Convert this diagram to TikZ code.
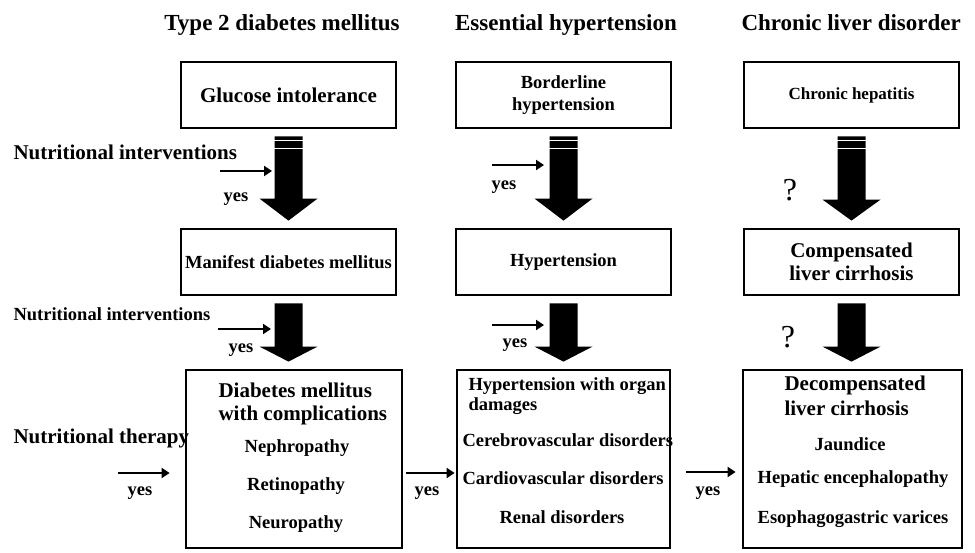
\documentclass[tikz,border=0pt]{standalone}
\usepackage{fontspec}
\setmainfont{Liberation Serif}
\usetikzlibrary{arrows.meta,calc}
% thick block arrow: from node, to node, head length
\newcommand\bigarrow[3]{%
  \fill let \p1=($(#1.south)+(0,7)$), \p2=($(#2.north)-(0,7)$) in
    (\x1-14pt,\y1) -- (\x1+14pt,\y1) -- (\x1+14pt,\y2+#3) -- (\x1+29pt,\y2+#3)
    -- (\x1,\y2) -- (\x1-29pt,\y2+#3) -- (\x1-14pt,\y2+#3) -- cycle;}
\newcommand\stripes[1]{%
  \draw[white, line width=1.3pt] ($(#1.south)+(-15,11)$) -- ++(30,0)
    ($(#1.south)+(-15,19)$) -- ++(30,0);}
\begin{document}
\begin{tikzpicture}[x=1pt, y=-1pt,
  box/.style={draw, line width=2.8pt, inner sep=0pt, align=center},
  big/.style={font=\fontsize{21}{23}\selectfont\bfseries},
  mid/.style={font=\fontsize{18.5}{22}\selectfont\bfseries},
  head/.style={font=\fontsize{23}{26}\selectfont\bfseries},
  ask/.style={font=\fontsize{32}{32}\selectfont},
  note/.style={line width=2.6pt, -{Triangle[length=8pt,width=10pt]}}]
	\useasboundingbox (0,0) rectangle (975,552);
	\def\bw{215pt}\def\bh{66pt}
	% titles
	\node[head, anchor=base] (t1) at (282,30) {Type 2 diabetes mellitus};
	\node[head, anchor=base] (t2) at (566,30) {Essential hypertension};
	\node[head, anchor=base west] (t3) at (738,30) {Chronic liver disorder};
	
	% first two stages
	\node[box, big, minimum width=\bw, minimum height=\bh] (g1) at (288.5,95) {Glucose intolerance};
	\node[box, mid, minimum width=\bw, minimum height=\bh] (h1) at (563.5,95) {Borderline\\hypertension};
	\node[box, mid, font=\fontsize{17}{20}\selectfont\bfseries, minimum width=\bw, minimum height=\bh] (c1) at (851.5,95) {Chronic hepatitis};
	\node[box, mid, minimum width=\bw, minimum height=\bh] (g2) at (288.5,262) {Manifest diabetes mellitus};
	\node[box, mid, minimum width=\bw, minimum height=\bh] (h2) at (563.5,262) {Hypertension};
	\node[box, big, minimum width=\bw, minimum height=\bh] (c2) at (851.5,262) {Compensated\\liver cirrhosis};
	
	% last stage
	\node[box, minimum width=216pt, minimum height=178pt] (g3) at (294,459) {};
	\node[box, minimum width=213pt, minimum height=178pt] (h3) at (563.5,459) {};
	\node[box, minimum width=219pt, minimum height=178pt] (c3) at (852.5,459) {};
	\node[big, anchor=base west] (g3a) at (215,397) {Diabetes mellitus};
	\node[big, anchor=base west] (g3b) at (215,420) {with complications};
	\node[mid, anchor=base] (g3c) at (297,452) {Nephropathy};
	\node[mid, anchor=base] (g3d) at (296,490) {Retinopathy};
	\node[mid, anchor=base] (g3e) at (296,528) {Neuropathy};
	\node[mid, anchor=base west] (h3a) at (465,390) {Hypertension with organ};
	\node[mid, anchor=base west] (h3b) at (465,410) {damages};
	\node[mid, anchor=base west] (h3c) at (459,446) {Cerebrovascular disorders};
	\node[mid, anchor=base] (h3d) at (563,484) {Cardiovascular disorders};
	\node[mid, anchor=base] (h3e) at (562,523) {Renal disorders};
	\node[big, anchor=base west] (c3a) at (781,390) {Decompensated};
	\node[big, anchor=base west] (c3b) at (781,415) {liver cirrhosis};
	\node[mid, anchor=base] (c3c) at (850,450) {Jaundice};
	\node[mid, anchor=base] (c3d) at (853,483) {Hepatic encephalopathy};
	\node[mid, anchor=base] (c3e) at (853,523) {Esophagogastric varices};
	
	% block arrows
	\bigarrow{g1}{g2}{22pt} \stripes{g1}
	\bigarrow{h1}{h2}{22pt} \stripes{h1}
	\bigarrow{c1}{c2}{21pt} \stripes{c1}
	\bigarrow{g2}{g3}{15pt}
	\bigarrow{h2}{h3}{15pt}
	\bigarrow{c2}{c3}{15pt}
	
	% interventions
	\node[big, anchor=base west] (n1) at (10,159) {Nutritional interventions};
	\node[mid, anchor=base west] (n2) at (10,320) {Nutritional interventions};
	\node[big, anchor=base west] (n3) at (10,443) {Nutritional therapy};
	\coordinate (a1) at (220,171); \coordinate (b1) at (272,171);
	\coordinate (a2) at (492,165); \coordinate (b2) at (544,165);
	\coordinate (a3) at (218,329); \coordinate (b3) at (271,329);
	\coordinate (a4) at (492,325); \coordinate (b4) at (544,325);
	\coordinate (a5) at (118,473);
	\draw[note] (a1) -- (b1);
	\draw[note] (a2) -- (b2);
	\draw[note] (a3) -- (b3);
	\draw[note] (a4) -- (b4);
	\draw[note] (a5) -- ($(g3.west)+(-15,14)$);
	\draw[note] ($(g3.east)+(3,14)$) -- ($(h3.west)+(-1,14)$);
	\draw[note] ($(h3.east)+(15,13)$) -- ($(c3.west)+(-6,13)$);
	\node[mid, anchor=base] (y1) at (236,201) {yes};
	\node[mid, anchor=base] (y2) at (504,189) {yes};
	\node[mid, anchor=base] (y3) at (241,352) {yes};
	\node[mid, anchor=base] (y4) at (515,347) {yes};
	\node[mid, anchor=base] (y5) at (140,495) {yes};
	\node[mid, anchor=base] (y6) at (427,495) {yes};
	\node[mid, anchor=base] (y7) at (708,495) {yes};
	\node[ask, anchor=base] (q1) at (790,200) {?};
	\node[ask, anchor=base] (q2) at (788,347) {?};
\end{tikzpicture}
\end{document}
